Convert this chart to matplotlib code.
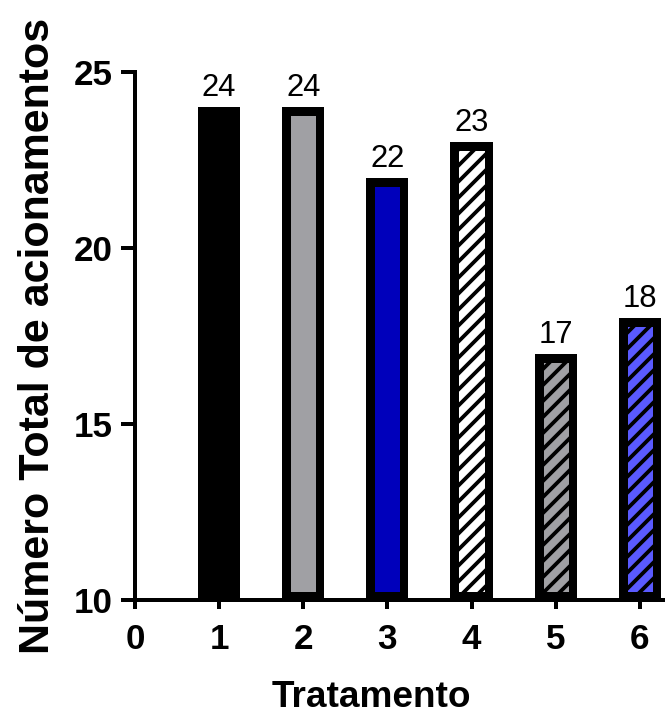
import matplotlib
matplotlib.use("Agg")
import matplotlib.pyplot as plt

# ---- data ----
categories = [1, 2, 3, 4, 5, 6]
values = [24, 24, 22, 23, 17, 18]
bar_colors = ["#000000", "#A0A0A4", "#0000BB", "#FFFFFF", "#A0A0A4", "#5A5AFF"]
bar_hatches = [None, None, None, "///", "///", "///"]
x_ticks = [0, 1, 2, 3, 4, 5, 6]
y_ticks = [10, 15, 20, 25]
x_label = "Tratamento"
y_label = "Número Total de acionamentos"

plt.rcParams["font.family"] = ["Liberation Sans", "DejaVu Sans"]
plt.rcParams["hatch.linewidth"] = 1.9
plt.rcParams["hatch.color"] = "black"

DPI = 144
fig = plt.figure(figsize=(665 / DPI, 717 / DPI), dpi=DPI)
ax = fig.add_axes([135 / 665, 117 / 717, 530 / 665, 528 / 717])

base = 10
for x, v, c, h in zip(categories, values, bar_colors, bar_hatches):
    bars = ax.bar(x, v - base, bottom=base, width=0.5, color=c,
                  edgecolor="black", linewidth=8.5, hatch=h, zorder=2)
    for b in bars:
        b.set_clip_path(b)
    ax.annotate(str(v), xy=(x, v), xytext=(0, 5.5), textcoords="offset points",
                ha="center", va="baseline", fontsize=15.5, clip_on=False)

ax.set_xlim(0, 6.3)
ax.set_ylim(10, 25)
ax.set_xticks(x_ticks)
ax.set_yticks(y_ticks)
ax.set_xticklabels([str(t) for t in x_ticks], fontsize=17.5, fontweight="bold")
ax.set_yticklabels([str(t) for t in y_ticks], fontsize=17.5, fontweight="bold")

for s in ["top", "right"]:
    ax.spines[s].set_visible(False)
for s in ["left", "bottom"]:
    ax.spines[s].set_linewidth(2)
    ax.spines[s].set_zorder(3)

ax.tick_params(axis="y", direction="out", length=7, width=2, pad=4)
ax.tick_params(axis="x", direction="out", length=4.5, width=2, pad=7)

ax.set_xlabel(x_label, fontsize=18.5, fontweight="bold")
ax.xaxis.set_label_coords((371 - 135) / 530, -0.152)
ax.set_ylabel(y_label, fontsize=21.5, fontweight="bold", labelpad=8)

fig.savefig("out.png", dpi=DPI)
